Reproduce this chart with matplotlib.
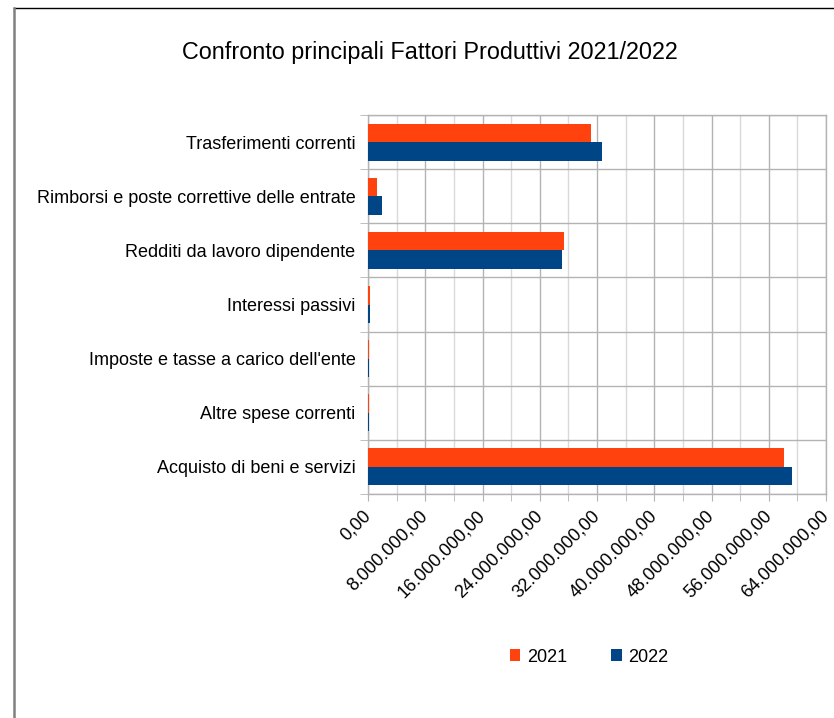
import matplotlib.pyplot as plt
from matplotlib.ticker import MultipleLocator, FuncFormatter
import numpy as np

plt.rcParams['font.family'] = ['Liberation Sans', 'DejaVu Sans']

# bottom to top, as drawn by barh
categories = [
    "Acquisto di beni e servizi",
    "Altre spese correnti",
    "Imposte e tasse a carico dell'ente",
    "Interessi passivi",
    "Redditi da lavoro dipendente",
    "Rimborsi e poste correttive delle entrate",
    "Trasferimenti correnti",
]
vals_2021 = [58_100_000, 150_000, 150_000, 280_000, 27_400_000, 1_260_000, 31_150_000]
vals_2022 = [59_250_000, 150_000, 150_000, 280_000, 27_100_000, 1_960_000, 32_700_000]

ORANGE = "#ff420e"
BLUE = "#004586"
GRID = "#b3b3b3"


def it_fmt(x, pos):
    s = f"{x:,.2f}"
    return s.replace(",", "X").replace(".", ",").replace("X", ".")


fig = plt.figure(figsize=(8.34, 7.18), dpi=100)
ax = fig.add_axes([368 / 834, 1 - 494 / 718, 458 / 834, 379 / 718])

y = np.arange(len(categories))
h = 0.343
ax.barh(y + h / 2, vals_2021, height=h, color=ORANGE, label="2021", zorder=3)
ax.barh(y - h / 2, vals_2022, height=h, color=BLUE, label="2022", zorder=3)

ax.set_xlim(0, 64_000_000)
ax.set_ylim(-0.5, len(categories) - 0.5)

ax.xaxis.set_major_locator(MultipleLocator(8_000_000))
ax.xaxis.set_minor_locator(MultipleLocator(4_000_000))
ax.xaxis.set_major_formatter(FuncFormatter(it_fmt))
ax.tick_params(axis="x", which="both", length=5, color=GRID, labelsize=13, pad=9)
for lbl in ax.get_xticklabels():
    lbl.set_rotation(45)
    lbl.set_ha("right")
    lbl.set_va("center")
    lbl.set_rotation_mode("anchor")

ax.set_yticks(y)
ax.set_yticklabels(categories, fontsize=13)
ax.set_yticks(np.arange(len(categories) + 1) - 0.5, minor=True)
ax.tick_params(axis="y", which="major", length=0, pad=9)
ax.tick_params(axis="y", which="minor", length=6, color=GRID)

ax.grid(True, axis="x", which="major", color=GRID, lw=1, zorder=0)
ax.grid(True, axis="x", which="minor", color="#d9d9d9", lw=1, zorder=0)
ax.grid(True, axis="y", which="minor", color=GRID, lw=1, zorder=0)
ax.set_axisbelow(True)
for sp in ax.spines.values():
    sp.set_color(GRID)
    sp.set_linewidth(1)

fig.text(430 / 834, 1 - 53 / 718, "Confronto principali Fattori Produttivi 2021/2022",
         ha="center", va="center", fontsize=16.8)

fig.legend(loc="center", bbox_to_anchor=(589 / 834, 1 - 657 / 718), ncol=2,
           frameon=False, fontsize=13, handlelength=0.6, handleheight=0.6,
           columnspacing=2.45, handletextpad=0.35)

# page frame: top and left edges only
fig.add_artist(plt.Line2D([13.5 / 834, 1], [1 - 8 / 718, 1 - 8 / 718], color="black", lw=1))
fig.add_artist(plt.Line2D([13.5 / 834, 13.5 / 834], [0, 1 - 8 / 718], color="#808080", lw=1.8))

fig.savefig("out.png", dpi=100)
